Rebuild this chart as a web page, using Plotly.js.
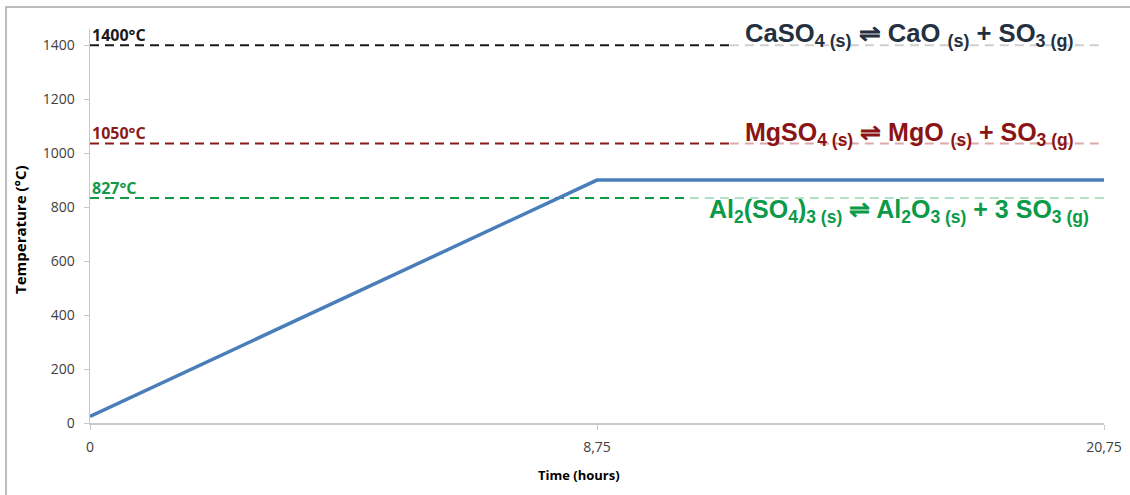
<!DOCTYPE html>
<html>
<head>
<meta charset="utf-8">
<script src="https://cdn.plot.ly/plotly-3.0.1.min.js"></script>
<style>
html,body{margin:0;padding:0;background:#fff;}
#chart{width:1130px;height:495px;}
</style>
</head>
<body>
<div id="chart"></div>
<script>
// Heating profile (category axis: evenly spaced time labels)
const timeLabels = ["0", "8,75", "20,75"];
const temperature = [24, 900, 900];

// Decomposition thresholds
const thresholdLabels = ["1400°C", "1050°C", "827°C"];
const thresholdValues = [1400, 1036, 834];
const thresholdDarkEnd = [1.262, 1.262, 1.183];
const thresholdColors = ["#1a1a1a", "#8b1a1a", "#0f9a4a"];
const thresholdLight = ["#cfcfcf", "#dcaaaa", "#b3dfc4"];
const reactions = [
  "CaSO<sub>4 (s)</sub> ⇌ CaO <sub>(s)</sub> + SO<sub>3 (g)</sub>",
  "MgSO<sub>4 (s)</sub> ⇌ MgO <sub>(s)</sub> + SO<sub>3 (g)</sub>",
  "Al<sub>2</sub>(SO<sub>4</sub>)<sub>3 (s)</sub> ⇌ Al<sub>2</sub>O<sub>3 (s)</sub> + 3 SO<sub>3 (g)</sub>"
];
const reactionTextColors = ["#243040", "#8b1414", "#0a9a48"];
const reactionFontSizes = [25.6, 25, 25];
const reactionX = [1.288, 1.288, 1.217];
const reactionY = [1439, 1070, 785];

const yTickVals = [0, 200, 400, 600, 800, 1000, 1200, 1400];

const idx = timeLabels.map((_, i) => i);
const xMax = timeLabels.length - 1;
const traces = [];
thresholdValues.forEach((v, i) => {
  traces.push({
    x: [0, thresholdDarkEnd[i]], y: [v, v], mode: 'lines', hoverinfo: 'skip',
    line: {color: thresholdColors[i], width: 2, dash: '9px,6px'}
  });
  traces.push({
    x: [thresholdDarkEnd[i], xMax], y: [v, v], mode: 'lines', hoverinfo: 'skip',
    line: {color: thresholdLight[i], width: 2, dash: '9px,6px'}
  });
});
traces.push({
  x: idx, y: temperature, mode: 'lines',
  line: {color: '#4a7ebb', width: 3.5}
});

const annotations = [];
thresholdValues.forEach((v, i) => {
  annotations.push({
    x: 0, y: v, xref: 'x', yref: 'y', xanchor: 'left', yanchor: 'bottom',
    text: '<b>' + thresholdLabels[i] + '</b>', showarrow: false, xshift: 0, yshift: -3,
    font: {family: 'Open Sans, sans-serif', size: 16, color: thresholdColors[i]}
  });
  annotations.push({
    x: reactionX[i], y: reactionY[i], xref: 'x', yref: 'y', xanchor: 'left', yanchor: 'middle',
    text: '<b>' + reactions[i] + '</b>', showarrow: false,
    font: {family: 'Liberation Sans, Arial, sans-serif', size: reactionFontSizes[i], color: reactionTextColors[i]}
  });
});
const xTitle = {
  x: 0, y: 0, xref: 'paper', yref: 'paper', showarrow: false, xanchor: 'center', yanchor: 'middle',
  text: '<b>Time (hours)</b>', font: {family: 'Open Sans, sans-serif', size: 13, color: '#000'}
};
const yTitle = {
  x: 0, y: 0, xref: 'paper', yref: 'paper', showarrow: false, xanchor: 'center', yanchor: 'middle',
  textangle: -90,
  text: '<b>Temperature (°C)</b>', font: {family: 'Open Sans, sans-serif', size: 15, color: '#000'}
};
annotations.push(xTitle, yTitle);

const layout = {
  width: 1130, height: 495,
  margin: {l: 90, r: 26, t: 29, b: 72},
  paper_bgcolor: '#fff', plot_bgcolor: '#fff',
  showlegend: false,
  xaxis: {
    range: [0, xMax], tickvals: idx, ticktext: timeLabels,
    showgrid: false, zeroline: false, showline: true, linecolor: '#c8c8c8', linewidth: 1.5,
    ticks: 'outside', ticklen: 5, tickcolor: '#c8c8c8', ticklabelstandoff: 6,
    tickfont: {family: 'Open Sans, sans-serif', size: 14, color: '#404040'},
    fixedrange: true
  },
  yaxis: {
    range: [0, 1460], tickvals: yTickVals,
    showgrid: false, zeroline: false, showline: true, linecolor: '#c8c8c8', linewidth: 1.5,
    ticks: 'outside', ticklen: 5, tickcolor: '#c8c8c8', ticklabelstandoff: 6,
    tickfont: {family: 'Open Sans, sans-serif', size: 14, color: '#404040'},
    fixedrange: true
  },
  annotations: annotations,
  shapes: [{
    type: 'path', xref: 'paper', yref: 'paper', path: 'M 0 0',
    line: {color: '#a6a6a6', width: 1.5}
  }]
};
(function(){
  const pw = 1130 - 90 - 26, ph = 495 - 29 - 72;
  const px = v => (v - 90) / pw;
  const py = v => (495 - 72 - v) / ph;
  xTitle.x = px(579); xTitle.y = py(475);
  yTitle.x = px(20); yTitle.y = py(230);
  layout.shapes[0].path = 'M ' + px(6) + ' ' + py(510) + ' L ' + px(6) + ' ' + py(7) + ' L ' + px(1140) + ' ' + py(7);
})();
Plotly.newPlot('chart', traces, layout, {displayModeBar: false, staticPlot: true});
</script>
</body>
</html>
